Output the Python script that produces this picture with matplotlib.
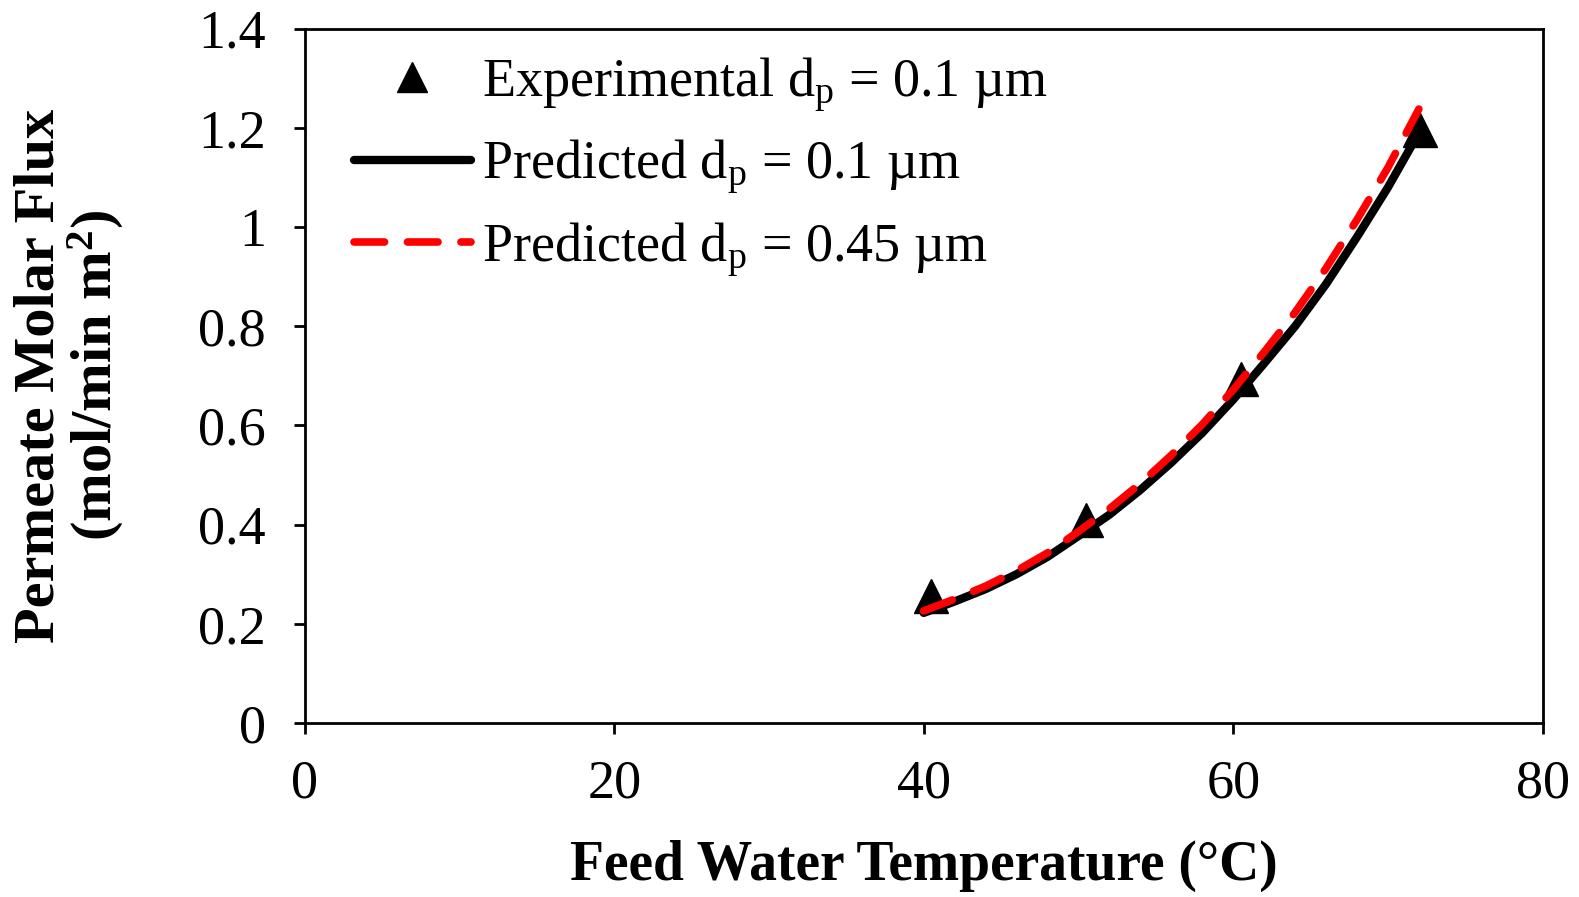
import matplotlib
matplotlib.use("Agg")
import matplotlib.pyplot as plt

plt.rcParams['font.family'] = ['Liberation Serif', 'DejaVu Serif']
plt.rcParams['mathtext.fontset'] = 'custom'
plt.rcParams['mathtext.rm'] = 'Liberation Serif'
plt.rcParams['mathtext.it'] = 'Liberation Serif:italic'
plt.rcParams['mathtext.bf'] = 'Liberation Serif:bold'

# experimental points, dp = 0.1 um
exp_T = [40.5, 50.5, 60.5, 72.1]
exp_flux = [0.256, 0.409, 0.693, 1.195]

# predicted curves
pred_T = [40, 42, 44, 46, 48, 50, 52, 54, 56, 58, 60, 62, 64, 66, 68, 70, 72]
pred_01 = [0.222, 0.245, 0.27, 0.30, 0.335, 0.377, 0.42, 0.47, 0.525, 0.585,
           0.652, 0.725, 0.80, 0.885, 0.98, 1.08, 1.19]
pred_045 = [0.226, 0.25, 0.276, 0.307, 0.343, 0.386, 0.432, 0.483, 0.54, 0.602,
            0.672, 0.748, 0.828, 0.917, 1.015, 1.12, 1.238]

fig = plt.figure(figsize=(15.79, 8.97), dpi=100)
ax = fig.add_axes([0.193, 0.194, 0.784, 0.774])

ax.plot(exp_T, exp_flux, '^', color='black', markersize=25, label='Experimental d$_\\mathrm{p}$ = 0.1 µm', zorder=3)
ax.plot(pred_T, pred_01, '-', color='black', linewidth=6, solid_capstyle='round',
        label='Predicted d$_\\mathrm{p}$ = 0.1 µm', zorder=2)
ax.plot(pred_T, pred_045, '--', color='red', linewidth=5.5, dashes=(4, 3), dash_capstyle='round',
        label='Predicted d$_\\mathrm{p}$ = 0.45 µm', zorder=4)

ax.set_xlim(0, 80)
ax.set_ylim(0, 1.4)
ax.set_xticks([0, 20, 40, 60, 80])
ax.set_yticks([0, 0.2, 0.4, 0.6, 0.8, 1, 1.2, 1.4])
ax.set_yticklabels(['0', '0.2', '0.4', '0.6', '0.8', '1', '1.2', '1.4'])
ax.tick_params(direction='out', length=8, width=2, labelsize=39)
ax.tick_params(axis='x', pad=18)
ax.tick_params(axis='y', pad=20)
for s in ax.spines.values():
    s.set_linewidth(2)

ax.set_xlabel('Feed Water Temperature (°C)', fontsize=40, fontweight='bold', labelpad=22)
ax.set_ylabel('Permeate Molar Flux\n(mol/min m$^\\mathbf{2}$)', fontsize=42, fontweight='bold',
              labelpad=52, linespacing=1.0)

leg = ax.legend(loc='upper left', bbox_to_anchor=(0.018, 1.0), frameon=False, fontsize=39,
                handlelength=2.15, handletextpad=0.22, labelspacing=0.45, borderaxespad=0.1,
                borderpad=0.4, markerscale=0.85)

fig.savefig('out.png', dpi=100)
